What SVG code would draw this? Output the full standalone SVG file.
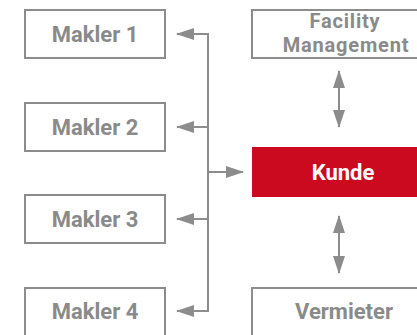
<svg xmlns="http://www.w3.org/2000/svg" width="417" height="335" viewBox="0 0 417 335">
  <style>
    .box { fill: #ffffff; stroke: #8c8c8c; stroke-width: 2; }
    .lbl { font-family: Roboto, "Liberation Sans", sans-serif; font-weight: 700; font-size: 22px; fill: #8a8a8a; text-anchor: middle; }
    .sm { font-size: 20px; letter-spacing: 0.8px; }
    .lblw { fill: #ffffff; }
    .con { fill: none; stroke: #8c8c8c; stroke-width: 2; }
  </style>
  <defs>
    <marker id="ah" markerUnits="userSpaceOnUse" markerWidth="18" markerHeight="12" refX="17" refY="6" orient="auto-start-reverse">
      <path d="M0,0 L18,6 L0,12 z" fill="#8c8c8c"/>
    </marker>
  </defs>
  <rect width="417" height="335" fill="#ffffff"/>
  <g id="connectors">
    <path class="con" d="M208,33 V312"/>
    <path class="con" d="M208,34 H177" marker-end="url(#ah)"/>
    <path class="con" d="M208,127 H177" marker-end="url(#ah)"/>
    <path class="con" d="M208,219 H177" marker-end="url(#ah)"/>
    <path class="con" d="M208,311 H177" marker-end="url(#ah)"/>
    <path class="con" d="M208,172 H243" marker-end="url(#ah)"/>
    <path class="con" d="M339,71 V127" marker-start="url(#ah)" marker-end="url(#ah)"/>
    <path class="con" d="M339,216 V273" marker-start="url(#ah)" marker-end="url(#ah)"/>
  </g>
  <g id="makler1">
    <rect class="box" x="25" y="10" width="140" height="48"/>
    <text class="lbl" x="95" y="42">Makler 1</text>
  </g>
  <g id="makler2">
    <rect class="box" x="25" y="103" width="140" height="48"/>
    <text class="lbl" x="95" y="135">Makler 2</text>
  </g>
  <g id="makler3">
    <rect class="box" x="25" y="195" width="140" height="48"/>
    <text class="lbl" x="95" y="227">Makler 3</text>
  </g>
  <g id="makler4">
    <rect class="box" x="25" y="288" width="140" height="48"/>
    <text class="lbl" x="95" y="319">Makler 4</text>
  </g>
  <g id="facility">
    <rect class="box" x="252" y="10" width="200" height="48"/>
    <text class="lbl sm" x="345" y="28">Facility</text>
    <text class="lbl sm" x="346" y="52">Management</text>
  </g>
  <g id="kunde">
    <rect x="252" y="147" width="200" height="50" fill="#cc0a1f"/>
    <text class="lbl lblw" x="343" y="180">Kunde</text>
  </g>
  <g id="vermieter">
    <rect class="box" x="252" y="288" width="200" height="48"/>
    <text class="lbl" x="344" y="319">Vermieter</text>
  </g>
</svg>
